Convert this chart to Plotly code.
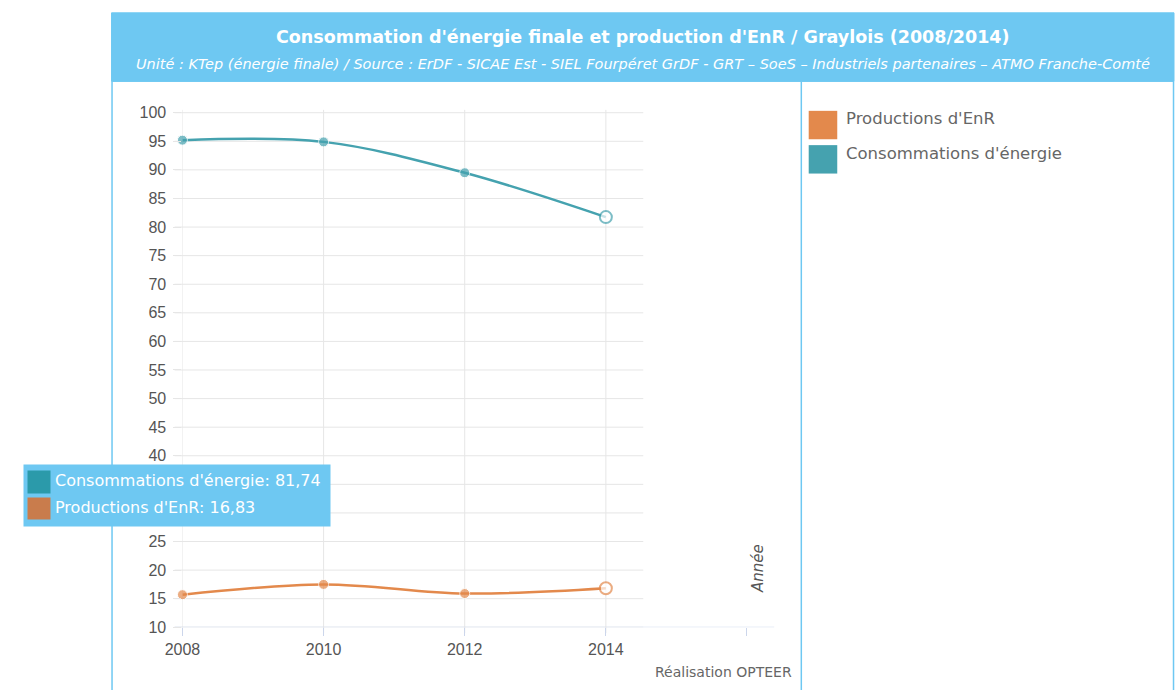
import plotly.graph_objects as go

# Données (kTep)
annees = [2008, 2010, 2012, 2014]
consommation = [95.2, 94.9, 89.5, 81.74]
production = [15.7, 17.5, 15.9, 16.83]
y_ticks = list(range(10, 101, 5))
# 30 et 35 sont masqués par l'infobulle
y_tick_labels = ["" if v in (30, 35) else str(v) for v in y_ticks]
x_ticks = [2008, 2010, 2012, 2014, 2016]
x_tick_labels = ["2008", "2010", "2012", "2014", ""]

W, H = 1175, 699
BLEU = "#6ec8f2"
TEAL = "#45a2af"
ORANGE = "#e3894c"
GRID = "#e6e6e6"
AXIS = "#ccd6eb"
WIDE = "'DejaVu Sans', sans-serif"
TICKFONT = "'Liberation Sans', Arial, sans-serif"


def px(x):
    return x / W


def py(y):
    return 1 - y / H


def marker_style(n, color):
    # points pleins cerclés de blanc ; dernier point mis en avant (cercle creux)
    return dict(
        size=[10] * (n - 1) + [12],
        color=[color] * (n - 1) + ["white"],
        line=dict(color=["white"] * (n - 1) + [color], width=[1] * (n - 1) + [2]),
    )


fig = go.Figure()
fig.add_trace(go.Scatter(
    x=annees, y=consommation, mode="lines+markers", name="Consommations d'énergie",
    line=dict(color=TEAL, width=2.5, shape="spline"), cliponaxis=False,
    marker=marker_style(len(annees), TEAL), hoverinfo="skip",
))
fig.add_trace(go.Scatter(
    x=annees, y=production, mode="lines+markers", name="Productions d'EnR",
    line=dict(color=ORANGE, width=2.5, shape="spline"), cliponaxis=False,
    marker=marker_style(len(annees), ORANGE), hoverinfo="skip",
))

shapes = []
# bandeau de titre et cadre
shapes.append(dict(type="rect", xref="paper", yref="paper", x0=px(95), x1=px(1174),
                   y0=py(78), y1=py(8), fillcolor=BLEU, line=dict(color=BLEU, width=1), layer="below"))
for xv in (95.5, 795.5, 1173.5):
    shapes.append(dict(type="line", xref="paper", yref="paper", x0=px(xv), x1=px(xv),
                       y0=py(78), y1=0, line=dict(color=BLEU, width=1.5), layer="below"))
# grille horizontale
for v in y_ticks:
    shapes.append(dict(type="line", xref="paper", yref="y", x0=px(159), x1=px(635),
                       y0=v, y1=v, line=dict(color=GRID, width=1), layer="below"))
# grille verticale (années de données)
for v in annees:
    shapes.append(dict(type="line", xref="x", yref="paper", x0=v, x1=v,
                       y0=py(641), y1=py(107), line=dict(color=GRID, width=1), layer="below"))
# ligne de base de l'axe des abscisses
shapes.append(dict(type="line", xref="paper", yref="y", x0=px(159), x1=px(768),
                   y0=10, y1=10, line=dict(color=AXIS, width=1), layer="below"))
# légende
for (y0, col) in ((108, ORANGE), (143, TEAL)):
    shapes.append(dict(type="rect", xref="paper", yref="paper", x0=px(803), x1=px(832),
                       y0=py(y0 + 29), y1=py(y0), fillcolor=col, line=dict(width=0)))

annotations = [
    dict(text="<b>Consommation d'énergie finale et production d'EnR / Graylois (2008/2014)</b>",
         x=px(635), y=py(33), xref="paper", yref="paper", showarrow=False,
         font=dict(family=WIDE, size=17.5, color="white"), xanchor="center", yanchor="middle"),
    dict(text="<i>Unité : KTep (énergie finale) / Source : ErDF - SICAE Est - SIEL Fourpéret GrDF - GRT – SoeS – "
              "Industriels partenaires – ATMO Franche-Comté</i>",
         x=px(635), y=py(60), xref="paper", yref="paper", showarrow=False,
         font=dict(family=WIDE, size=14.5, color="white"), xanchor="center", yanchor="middle"),
    dict(text="Productions d'EnR", x=px(839), y=py(116), xref="paper", yref="paper", showarrow=False,
         font=dict(family=WIDE, size=16.5, color="#666666"), xanchor="left", yanchor="middle"),
    dict(text="Consommations d'énergie", x=px(839), y=py(152), xref="paper", yref="paper", showarrow=False,
         font=dict(family=WIDE, size=16.5, color="#666666"), xanchor="left", yanchor="middle"),
    dict(text="<i>Année</i>", x=px(752), y=py(575), xref="paper", yref="paper", showarrow=False,
         textangle=-90, font=dict(family=WIDE, size=15, color="#555555"),
         xanchor="center", yanchor="middle"),
    dict(text="Réalisation OPTEER", x=px(788), y=py(681), xref="paper", yref="paper", showarrow=False,
         font=dict(family=WIDE, size=14, color="#666666"), xanchor="right", yanchor="middle"),
    # infobulle
    dict(text="", x=px(5), y=py(468), xref="paper", yref="paper", showarrow=False,
         width=304, height=59, bgcolor=BLEU, borderpad=1, xanchor="left", yanchor="top"),
    dict(text="", x=px(9), y=py(475), xref="paper", yref="paper", showarrow=False,
         width=22, height=22, bgcolor="#2b9aaa", borderpad=0, xanchor="left", yanchor="top"),
    dict(text="", x=px(9), y=py(502), xref="paper", yref="paper", showarrow=False,
         width=22, height=21, bgcolor="#c97c4c", borderpad=0, xanchor="left", yanchor="top"),
    dict(text=f"Consommations d'énergie: {consommation[-1]:.2f}".replace(".", ","),
         x=px(36), y=py(485), xref="paper", yref="paper", showarrow=False,
         font=dict(family=WIDE, size=16, color="white"), xanchor="left", yanchor="middle"),
    dict(text=f"Productions d'EnR: {production[-1]:.2f}".replace(".", ","),
         x=px(36), y=py(513), xref="paper", yref="paper", showarrow=False,
         font=dict(family=WIDE, size=16, color="white"), xanchor="left", yanchor="middle"),
]

fig.update_layout(
    width=W, height=H, margin=dict(l=0, r=0, t=0, b=0),
    paper_bgcolor="white", plot_bgcolor="rgba(0,0,0,0)",
    showlegend=False, hovermode=False,
    shapes=shapes, annotations=annotations,
    xaxis=dict(domain=[px(167), px(768)], range=[2008, 2016.386], tickvals=x_ticks, ticktext=x_tick_labels,
               showgrid=False, zeroline=False, showline=False, ticks="outside", ticklen=8,
               tickcolor=AXIS, tickfont=dict(family=TICKFONT, size=16, color="#555555")),
    yaxis=dict(domain=[py(635), py(107)], range=[10, 100.5], tickvals=y_ticks, ticktext=y_tick_labels,
               showgrid=False, zeroline=False, showline=False, ticks="outside", ticklen=8,
               ticklabelstandoff=4,
               tickcolor=GRID, tickfont=dict(family=TICKFONT, size=16, color="#555555")),
)

fig.write_html("out.html")
